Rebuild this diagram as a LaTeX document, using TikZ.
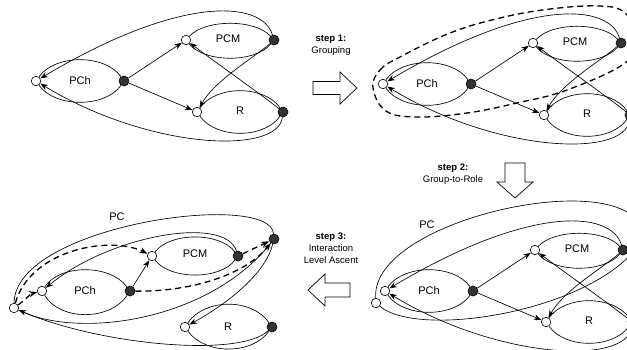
\documentclass[tikz,border=0pt]{standalone}
\usepackage{fontspec}
\setmainfont{Liberation Sans}
\usetikzlibrary{arrows.meta}
\tikzset{
  wdot/.style={circle,draw,fill=white,inner sep=0pt,minimum size=9.5pt,line width=0.6pt},
  bdot/.style={circle,draw,fill=black!80,inner sep=0pt,minimum size=10pt,line width=0.6pt},
  lbl/.style={font=\fontsize{11}{13}\selectfont,inner sep=0pt},
  steplbl/.style={font=\fontsize{9.5}{12}\selectfont,align=center,inner sep=0pt},
  ln/.style={line width=0.65pt},
  arr/.style={ln,-{Stealth[length=7.5pt,width=5.5pt]}},
  dsh/.style={line width=1.3pt,dash pattern=on 6pt off 4pt},
  darr/.style={dsh,-{Stealth[length=8pt,width=6pt]}},
  blockarrow/.style={draw,line width=0.7pt,fill=white,line join=miter},
}
\newcommand{\basepanel}[1]{%
  \node[wdot] (#1hw) at (36,81) {};
  \node[bdot] (#1hb) at (124,81) {};
  \node[lbl] (#1hl) at (80,81) {PCh};
  \node[wdot] (#1mw) at (186,40) {};
  \node[bdot] (#1mb) at (274,40) {};
  \node[lbl] (#1ml) at (228,39) {PCM};
  \node[wdot] (#1rw) at (197,112) {};
  \node[bdot] (#1rb) at (283,112) {};
  \node[lbl] (#1rl) at (240,111) {R};
  % lenses
  \draw[ln] (#1hw) .. controls (55,54) and (105,54) .. (#1hb) .. controls (105,108) and (55,108) .. (#1hw);
  \draw[ln] (#1mw) .. controls (205,19) and (255,19) .. (#1mb) .. controls (255,63) and (205,63) .. (#1mw);
  \draw[ln] (#1rw) .. controls (216,85) and (264,85) .. (#1rb) .. controls (264,139) and (216,139) .. (#1rw);
  % edges
  \draw[arr] (#1hb) -- (#1mw);
  \draw[arr] (#1hb) -- (#1rw);
  \draw[arr] (#1mb) .. controls (255,57) and (215,80) .. (#1rw);
  \draw[arr] (#1rb) .. controls (262,95) and (215,62) .. (#1mw);
  \draw[arr] (#1mb) .. controls (262,0) and (180,-5) .. (#1hw);
  \draw[arr] (#1rb) .. controls (278,155) and (150,150) .. (#1hw);
}
\begin{document}
\begin{tikzpicture}[x=1pt,y=-1pt]
\useasboundingbox (0,0) rectangle (627,349);
\fill[white] (0,0) rectangle (627,349);
\clip (0,0) rectangle (627,349);

% ---------- panel 1 (top left)
\basepanel{A}

% ---------- step 1
\node[steplbl] (s1) at (331,45) {\textbf{step 1:}\\Grouping};
\draw[blockarrow] (313,81.5) -- (340,81.5) -- (340,72) -- (357,88) -- (340,104) -- (340,94.5) -- (313,94.5) -- cycle;

% ---------- panel 2 (top right)
\begin{scope}[shift={(347,3)}]
\basepanel{B}
\end{scope}
\draw[dsh] plot[smooth cycle,tension=0.65] coordinates {(373,88) (380,70) (400,57) (450,33) (500,18) (550,9) (600,6) (625,13) (636,38) (625,63) (567,90) (517,103) (467,113) (417,117) (386,111)};

% ---------- step 2
\node[steplbl] (s2) at (453,174) {\textbf{step 2:}\\Group-to-Role};
\draw[blockarrow] (505,163) -- (525,163) -- (525,182) -- (533,182) -- (515,198) -- (497,182) -- (505,182) -- cycle;

% ---------- panel 3 (bottom right)
\begin{scope}[shift={(349,210)}]
\basepanel{C}
\end{scope}
\node[wdot] (Cpw) at (376,303) {};
\coordinate (Cpb) at (642,240);
\node[lbl] (Cpl) at (427,225) {PC};
\draw[ln] (Cpw) .. controls (370,215) and (650,160) .. (Cpb) .. controls (600,310) and (420,340) .. (Cpw);

% ---------- step 3
\node[steplbl] (s3) at (331,248) {\textbf{step 3:}\\Interaction\\Level Ascent};
\draw[blockarrow] (350,283) -- (325,283) -- (325,274) -- (308,290) -- (325,306) -- (325,297) -- (350,297) -- cycle;

% ---------- panel 4 (bottom left)
\node[wdot] (Dpw) at (14,308) {};
\node[bdot] (Dpb) at (274,239) {};
\node[lbl] (Dpl) at (117,217) {PC};
\node[wdot] (Dhw) at (42,291) {};
\node[bdot] (Dhb) at (130,291) {};
\node[lbl] (Dhl) at (85,291) {PCh};
\node[wdot] (Dmw) at (152,256) {};
\node[bdot] (Dmb) at (238,256) {};
\node[lbl] (Dml) at (195,254) {PCM};
\node[wdot] (Drw) at (185,327) {};
\node[bdot] (Drb) at (272,327) {};
\node[lbl] (Drl) at (228,327) {R};
\draw[ln] (Dhw) .. controls (60,264) and (110,264) .. (Dhb) .. controls (110,321) and (60,321) .. (Dhw);
\draw[ln] (Dmw) .. controls (170,232) and (220,232) .. (Dmb) .. controls (220,280) and (170,280) .. (Dmw);
\draw[ln] (Drw) .. controls (205,298) and (252,298) .. (Drb) .. controls (252,355) and (205,355) .. (Drw);
\draw[ln] (Dpw) .. controls (15,225) and (270,190) .. (Dpb) .. controls (210,320) and (80,340) .. (Dpw);
\draw[arr] (Dhb) -- (Dmw);
\draw[arr] (Dmb) .. controls (225,215) and (110,235) .. (Dhw);
\draw[arr] (Drb) .. controls (240,358) and (100,345) .. (Dpw);
\draw[arr] (Dpb) .. controls (265,275) and (225,305) .. (Drw);
\draw[darr] (Dpw) .. controls (30,250) and (110,235) .. (Dmw);
\draw[darr] (Dpw) .. controls (25,300) and (30,294) .. (Dhw);
\draw[darr] (Dhb) .. controls (190,292) and (245,275) .. (Dpb);
\draw[darr] (Dmb) -- (Dpb);
\end{tikzpicture}
\end{document}
